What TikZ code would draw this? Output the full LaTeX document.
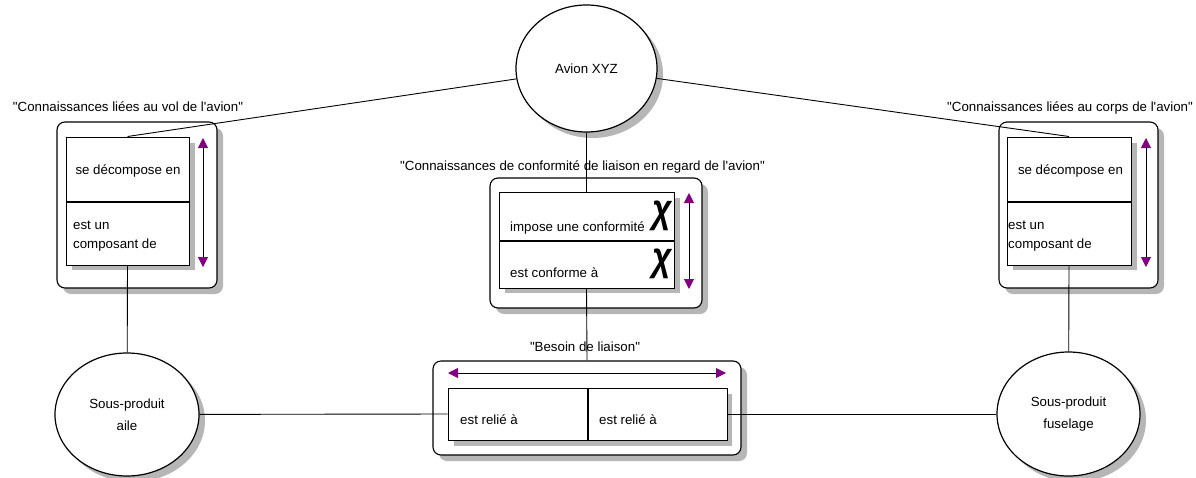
\documentclass[tikz,border=0pt]{standalone}
\usepackage{graphicx}
\usepackage{fontspec}
\setmainfont{Liberation Sans}
\usetikzlibrary{shapes.geometric,arrows.meta,positioning}
\definecolor{ombre}{RGB}{182,182,182}
\definecolor{pointe}{RGB}{128,0,128}
\newcommand{\txtdiag}{\fontsize{13.3}{19.3}\selectfont}
\newcommand{\txtbulle}{\fontsize{13.3}{22}\selectfont}
\newcommand{\chigras}{\scalebox{1.05}[1.25]{\fontsize{32}{32}\selectfont\bfseries\itshape χ}}
\tikzset{
  cadre/.style={draw,line width=1.1pt,rounded corners=8pt,fill=white,inner sep=0pt},
  case/.style={draw,line width=1pt,fill=white,inner sep=0pt},
  bulle/.style={draw,line width=1.2pt,ellipse,fill=white,inner sep=0pt,align=center,font=\txtbulle},
  lbl/.style={inner sep=0pt,font=\txtdiag},
  lien/.style={line width=0.9pt},
  fleche/.style={line width=0.9pt,{Triangle[length=10pt,width=10pt,color=pointe]}-{Triangle[length=10pt,width=10pt,color=pointe]}}
}

\begin{document}
\begin{tikzpicture}[x=1pt,y=-1pt]
\useasboundingbox (0,0) rectangle (1196,477);

\foreach \xa/\ya/\xb/\yb in {63/128/223/294, 1005/128/1164/294, 496/184/708/314, 439/367/747/461}
  \fill[ombre,rounded corners=8pt] (\xa,\ya) rectangle (\xb,\yb);
\node[cadre,minimum width=160pt,minimum height=166pt] (vol) at (137,205) {};
\node[cadre,minimum width=159pt,minimum height=166pt] (corps) at (1078.5,205) {};
\node[cadre,minimum width=212pt,minimum height=130pt] (conf) at (596,243) {};
\node[cadre,minimum width=308pt,minimum height=94pt] (besoin) at (587,408) {};

\node[lbl,anchor=base] (volT) at (128,111) {\textquotedbl Connaissances liées au vol de l\textquotesingle avion\textquotedbl};
\node[lbl,anchor=base] (corpsT) at (1070,111) {\textquotedbl Connaissances liées au corps de l\textquotesingle avion\textquotedbl};
\node[lbl,anchor=base] (confT) at (582.5,170.5) {\textquotedbl Connaissances de conformité de liaison en regard de l\textquotesingle avion\textquotedbl};
\node[lbl,anchor=base] (besoinT) at (585,351.5) {\textquotedbl Besoin de liaison\textquotedbl};

\foreach \cx/\cy/\rx/\ry in {592.5/74.5/70.5/63.5, 133/420.5/72/61.5, 1074.5/420/71.5/62}
  \fill[ombre] (\cx,\cy) ellipse ({\rx} and {\ry});
\node[bulle,minimum width=141pt,minimum height=127pt] (avion) at (586.5,68.5) {Avion XYZ};
\node[bulle,minimum width=144pt,minimum height=123pt] (aile) at (127,414.5) {Sous-produit\\aile};
\node[bulle,minimum width=143pt,minimum height=124pt] (fuselage) at (1068.5,414) {Sous-produit\\fuselage};

\foreach \xa/\ya/\xb/\yb in {72/143/195/270, 1013/143/1137/270, 505/198/680/293, 454/394/732/446}
  \fill[ombre] (\xa,\ya) rectangle (\xb,\yb);
\node[case,minimum width=123pt,minimum height=64pt] (volA) at (127.5,169) {};
\node[case,minimum width=123pt,minimum height=63pt,below=0pt of volA] (volB) {};
\node[case,minimum width=124pt,minimum height=64pt] (corpsA) at (1069,169) {};
\node[case,minimum width=124pt,minimum height=63pt,below=0pt of corpsA] (corpsB) {};
\node[case,minimum width=175pt,minimum height=48pt] (confA) at (586.5,216) {};
\node[case,minimum width=175pt,minimum height=47pt,below=0pt of confA] (confB) {};
\node[case,minimum width=139pt,minimum height=52pt] (relieA) at (517.5,414) {};
\node[case,minimum width=139pt,minimum height=52pt,right=0pt of relieA] (relieB) {};

\node[lbl,anchor=base] (volA-t) at (128,174.5) {se décompose en};
\node[lbl,anchor=west,align=left] (volB-t) at (73,236.2) {est un\\composant de};
\node[lbl,anchor=base] (corpsA-t) at (1070.5,174.5) {se décompose en};
\node[lbl,anchor=west,align=left] (corpsB-t) at (1008,236.2) {est un\\composant de};
\node[lbl,anchor=base west] (confA-t) at (510,231.7) {impose une conformité};
\node[lbl,anchor=base west] (confB-t) at (510,277) {est conforme à};
\node[inner sep=0pt] (chiA) at (662,216) {\chigras};
\node[inner sep=0pt] (chiB) at (662,264) {\chigras};
\node[lbl,anchor=base west] (relieA-t) at (460,424) {est relié à};
\node[lbl,anchor=base west] (relieB-t) at (599,424) {est relié à};

\coordinate (volH) at (203,138);
\coordinate (volBas) at (203,267);
\coordinate (corpsH) at (1146,138);
\coordinate (corpsBas) at (1146,267);
\coordinate (confH) at (689,193);
\coordinate (confBas) at (689,289);
\coordinate (besoinG) at (448,373);
\coordinate (besoinD) at (726,373);
\draw[fleche] (volH) -- (volBas);
\draw[fleche] (corpsH) -- (corpsBas);
\draw[fleche] (confH) -- (confBas);
\draw[fleche] (besoinG) -- (besoinD);

\draw[lien] (avion) -- (volA.north);
\draw[lien] (avion) -- (corpsA.north);
\draw[lien] (avion) -- (confA.north);
\draw[lien] (confB.south) -- (besoin.north);
\draw[lien] (volB.south) -- (aile);
\draw[lien] (corpsB.south) -- (fuselage);
\draw[lien] (aile) -- (relieA.west);
\draw[lien] (relieB.east) -- (fuselage);
\end{tikzpicture}
\end{document}
